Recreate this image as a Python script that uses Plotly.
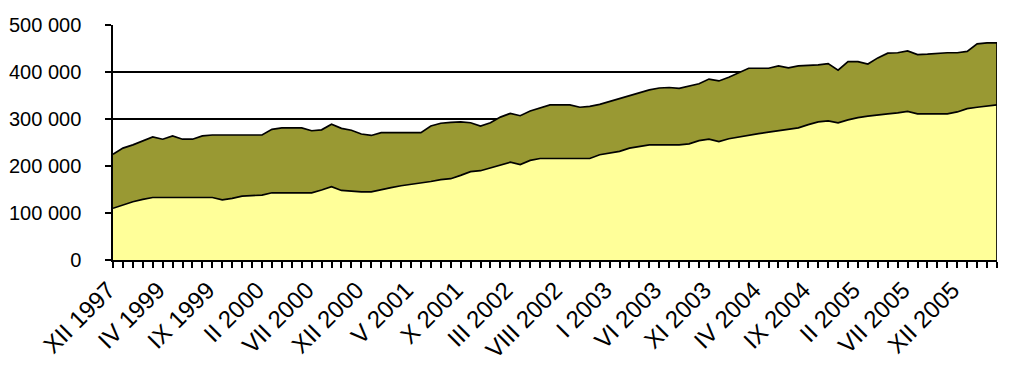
import plotly.graph_objects as go

ROMAN = ["I", "II", "III", "IV", "V", "VI", "VII", "VIII", "IX", "X", "XI", "XII"]
categories = (["XII 1997", "XII 1998"]
              + [f"{ROMAN[m]} {y}" for y in range(1999, 2006) for m in range(12)]
              + ["I 2006", "II 2006", "III 2006", "IV 2006"])

# lower series (yellow)
series_lower = [
    110000, 117000, 124000, 129000, 133000, 133000, 133000, 133000, 133000, 133000,
    133000, 128000, 131000, 136000, 137000, 138000, 143000, 143000, 143000, 143000,
    143000, 149000, 156000, 148000, 146000, 145000, 145000, 150000, 154000, 158000,
    161000, 163000, 167000, 171000, 173000, 180000, 188000, 190000, 196000, 202000,
    208000, 203000, 212000, 216000, 216000, 216000, 216000, 216000, 216000, 224000,
    228000, 231000, 238000, 241000, 245000, 245000, 245000, 245000, 247000, 254000,
    257000, 252000, 258000, 262000, 266000, 269000, 272000, 275000, 278000, 281000,
    288000, 294000, 296000, 292000, 298000, 303000, 306000, 309000, 311000, 313000,
    316000, 311000, 311000, 311000, 311000, 315000, 322000, 325000, 327000, 330000,
]
# upper series (olive), stacked on top
series_upper = [
    115000, 121000, 121000, 125000, 129000, 124000, 131000, 124000, 124000, 131000,
    133000, 138000, 135000, 130000, 129000, 128000, 135000, 138000, 138000, 138000,
    132000, 128000, 133000, 132000, 130000, 123000, 120000, 121000, 117000, 113000,
    110000, 108000, 118000, 120000, 120000, 114000, 104000, 95000, 96000, 102000,
    104000, 104000, 105000, 107000, 114000, 114000, 114000, 109000, 111000, 107000,
    109000, 112000, 112000, 114000, 117000, 121000, 122000, 120000, 123000, 121000,
    128000, 129000, 131000, 137000, 142000, 139000, 136000, 138000, 131000, 132000,
    126000, 121000, 122000, 112000, 124000, 119000, 111000, 121000, 129000, 128000,
    129000, 126000, 127000, 129000, 130000, 126000, 122000, 135000, 135000, 132000,
]

y_tickvals = [0, 100000, 200000, 300000, 400000, 500000]
y_ticktext = ["0", "100 000", "200 000", "300 000", "400 000", "500 000"]

idx = list(range(len(categories)))
x_ticktext = [c + "\u00a0" if i % 5 == 0 else "" for i, c in enumerate(categories)]

FONT = "Liberation Sans, Arial, sans-serif"

fig = go.Figure()
fig.add_trace(go.Scatter(
    x=idx, y=series_lower, stackgroup="one", mode="lines",
    line=dict(color="black", width=1.7), fillcolor="#FFFF99", showlegend=False,
))
fig.add_trace(go.Scatter(
    x=idx, y=series_upper, stackgroup="one", mode="lines",
    line=dict(color="black", width=1.7), fillcolor="#999933", showlegend=False,
))
# right closing edge of the stacked area
fig.add_trace(go.Scatter(
    x=[idx[-1], idx[-1]], y=[0, series_lower[-1] + series_upper[-1]],
    mode="lines", line=dict(color="black", width=1.7), showlegend=False,
))

fig.update_layout(
    width=1024, height=372,
    margin=dict(l=113, r=27, t=25, b=112),
    paper_bgcolor="white", plot_bgcolor="white",
    font=dict(family=FONT, color="black", size=20),
    xaxis=dict(
        range=[0, idx[-1]], tickmode="array", tickvals=idx, ticktext=x_ticktext,
        tickangle=-45, ticks="outside", ticklen=6, tickwidth=1.5, tickcolor="black",
        showline=True, linecolor="black", linewidth=1.5, showgrid=False, zeroline=False,
        tickfont=dict(size=24, family=FONT), ticklabelstandoff=-6, automargin=False,
    ),
    yaxis=dict(
        range=[0, 500000], tickmode="array", tickvals=y_tickvals, ticktext=y_ticktext,
        ticks="outside", ticklen=6, tickwidth=1.5, tickcolor="black",
        showline=True, linecolor="black", linewidth=1.5,
        showgrid=True, gridcolor="black", gridwidth=1.5, zeroline=False,
        tickfont=dict(size=20, family=FONT), ticklabelstandoff=20, automargin=False,
    ),
    xaxis2=dict(
        overlaying="x", side="top", range=[0, idx[-1]], showline=True,
        linecolor="#909090", linewidth=1.5, showticklabels=False, ticks="",
        showgrid=False, zeroline=False, automargin=False,
    ),
    yaxis2=dict(
        overlaying="y", side="right", range=[0, 500000], showline=True,
        linecolor="#909090", linewidth=1.5, showticklabels=False, ticks="",
        showgrid=False, zeroline=False, layer="below traces", automargin=False,
    ),
)
fig.write_html("out.html")
